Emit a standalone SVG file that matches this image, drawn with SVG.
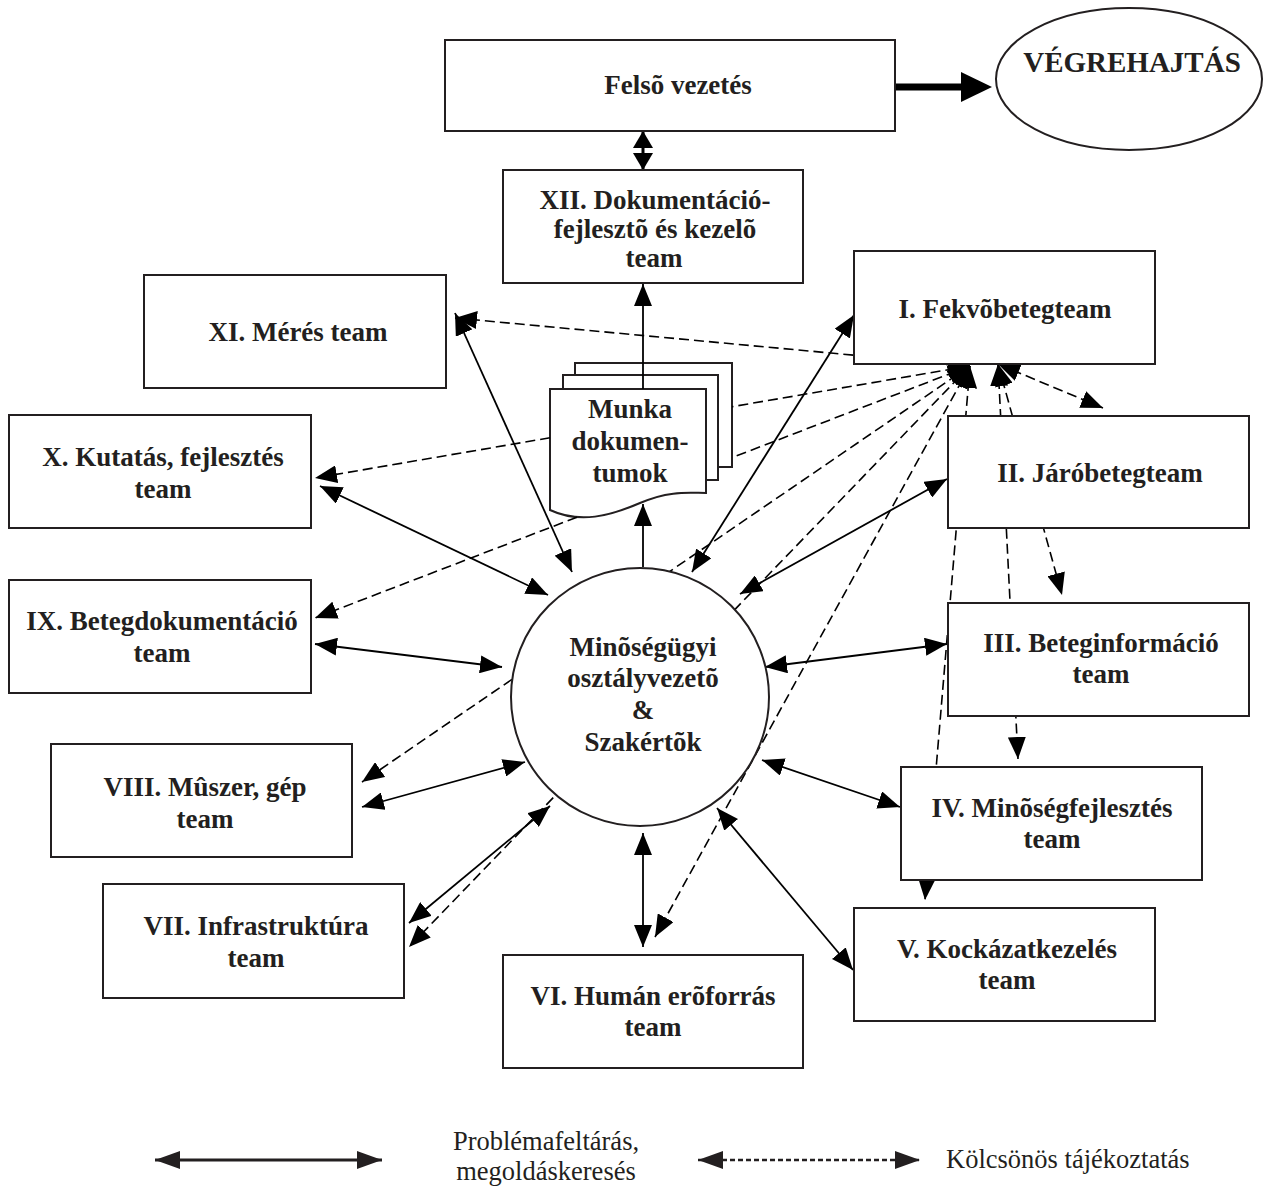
<svg xmlns="http://www.w3.org/2000/svg" width="1264" height="1189" viewBox="0 0 1264 1189">
  <defs>
    <style>
      .box { fill:#fff; stroke:#231f20; stroke-width:2; }
      .lbl { font-family:"Liberation Serif","Times New Roman",serif; font-weight:bold; font-size:27px; fill:#231f20; text-anchor:middle; }
      .leg { font-family:"Liberation Serif","Times New Roman",serif; font-size:26.5px; fill:#231f20; }
      .solid { stroke:#000; stroke-width:1.8; fill:none; }
      .dash { stroke:#000; stroke-width:1.6; stroke-dasharray:10 5; fill:none; }
      .both { marker-start:url(#ah); marker-end:url(#ah); }
      .head { marker-end:url(#ah); }
      .tail { marker-start:url(#ah); }
    </style>
    <marker id="ah" viewBox="0 0 22 18" refX="22" refY="9" markerWidth="22" markerHeight="18" markerUnits="userSpaceOnUse" orient="auto-start-reverse">
      <path d="M0,0 L22,9 L0,18 Z" fill="#000"/>
    </marker>
    <marker id="ahT" viewBox="0 0 17 20" refX="17" refY="10" markerWidth="17" markerHeight="20" markerUnits="userSpaceOnUse" orient="auto-start-reverse">
      <path d="M0,0 L17,10 L0,20 Z" fill="#000"/>
    </marker>
    <marker id="ahL" viewBox="0 0 25 18" refX="25" refY="9" markerWidth="25" markerHeight="18" markerUnits="userSpaceOnUse" orient="auto-start-reverse">
      <path d="M0,0 L25,9 L0,18 Z" fill="#231f20"/>
    </marker>
  </defs>

  <rect width="1264" height="1189" fill="#fff"/>

  <!-- working documents: three stacked sheets -->
  <g id="node-munka-dokumentumok">
    <rect class="box" x="575" y="363" width="157" height="104"/>
    <rect class="box" x="563" y="375" width="155" height="105"/>
    <path class="box" d="M550,389 L706,389 L706,493 C690,493 670,490 640,503 C610,516 580,524 550,510 Z"/>
    <text class="lbl" x="630" y="418">Munka</text>
    <text class="lbl" x="630" y="450">dokumen-</text>
    <text class="lbl" x="630" y="482">tumok</text>
  </g>

  <g id="connectors">
    <!-- mutual information (dashed) -->
    <path class="dash both" d="M455,318 L970,366"/>
    <path class="dash tail" d="M970,366 L732,406.7"/>
    <path class="dash head" d="M550,437.8 L315,478"/>
    <path class="dash tail" d="M970,366 L732,457.6"/>
    <path class="dash head" d="M577,517.2 L315,618"/>
    <path class="dash both" d="M970,366 L362,782"/>
    <path class="dash both" d="M970,366 L409,947"/>
    <path class="dash both" d="M970,366 L655,937"/>
    <path class="dash both" d="M970,366 L925,900"/>
    <path class="dash both" d="M998,364 L1018,759"/>
    <path class="dash both" d="M998,364 L1062,595"/>
    <path class="dash both" d="M998,364 L1103,408"/>

    <!-- problem finding / solution search (solid) -->
    <path class="solid both" d="M455,313 L572,572"/>
    <path class="solid both" d="M854,315 L692,572"/>
    <path class="solid both" d="M320,486 L548,595"/>
    <path class="solid both" d="M315,644 L502,667"/>
    <path class="solid both" d="M362,807 L525,762"/>
    <path class="solid both" d="M409,923 L550,806"/>
    <path class="solid both" d="M643,833 L643,947"/>
    <path class="solid both" d="M717,808 L853,970"/>
    <path class="solid both" d="M762,760 L900,807"/>
    <path class="solid both" d="M765,667 L947,644"/>
    <path class="solid both" d="M740,594 L947,479"/>
    <path class="solid head" d="M643,567 L643,504"/>
    <path class="solid head" d="M643,389 L643,284"/>
    <path d="M643,131 L643,170" stroke="#000" stroke-width="3" marker-start="url(#ahT)" marker-end="url(#ahT)"/>

    <!-- executive flow -->
    <path d="M895,87 L962,87" stroke="#000" stroke-width="7"/>
    <path d="M961,72 L992,87 L961,102 Z" fill="#000"/>
  </g>

  <g id="node-felso-vezetes">
    <rect class="box" x="445" y="40" width="450" height="91"/>
    <text class="lbl" x="678" y="94">Felsõ vezetés</text>
  </g>

  <g id="node-vegrehajtas">
    <ellipse class="box" cx="1129" cy="79" rx="133" ry="71" stroke-width="1.6"/>
    <text class="lbl" x="1132" y="72" style="font-size:29px">VÉGREHAJTÁS</text>
  </g>

  <g id="node-xii">
    <rect class="box" x="503" y="170" width="300" height="113"/>
    <text class="lbl" x="655" y="209">XII. Dokumentáció-</text>
    <text class="lbl" x="655" y="238">fejlesztõ és kezelõ</text>
    <text class="lbl" x="654" y="267">team</text>
  </g>

  <g id="node-xi">
    <rect class="box" x="144" y="275" width="302" height="113"/>
    <text class="lbl" x="298" y="341">XI. Mérés team</text>
  </g>

  <g id="node-i">
    <rect class="box" x="854" y="251" width="301" height="113"/>
    <text class="lbl" x="1005" y="318">I. Fekvõbetegteam</text>
  </g>

  <g id="node-x">
    <rect class="box" x="9" y="415" width="302" height="113"/>
    <text class="lbl" x="163" y="466">X. Kutatás, fejlesztés</text>
    <text class="lbl" x="163" y="498">team</text>
  </g>

  <g id="node-ii">
    <rect class="box" x="948" y="416" width="301" height="112"/>
    <text class="lbl" x="1100" y="482">II. Járóbetegteam</text>
  </g>

  <g id="node-ix">
    <rect class="box" x="9" y="580" width="302" height="113"/>
    <text class="lbl" x="162" y="630">IX. Betegdokumentáció</text>
    <text class="lbl" x="162" y="662">team</text>
  </g>

  <g id="node-iii">
    <rect class="box" x="948" y="603" width="301" height="113"/>
    <text class="lbl" x="1101" y="652">III. Beteginformáció</text>
    <text class="lbl" x="1101" y="683">team</text>
  </g>

  <g id="node-viii">
    <rect class="box" x="51" y="744" width="301" height="113"/>
    <text class="lbl" x="205" y="796">VIII. Mûszer, gép</text>
    <text class="lbl" x="205" y="828">team</text>
  </g>

  <g id="node-iv">
    <rect class="box" x="901" y="767" width="301" height="113"/>
    <text class="lbl" x="1052" y="817">IV. Minõségfejlesztés</text>
    <text class="lbl" x="1052" y="848">team</text>
  </g>

  <g id="node-vii">
    <rect class="box" x="103" y="884" width="301" height="114"/>
    <text class="lbl" x="256" y="935">VII. Infrastruktúra</text>
    <text class="lbl" x="256" y="967">team</text>
  </g>

  <g id="node-v">
    <rect class="box" x="854" y="908" width="301" height="113"/>
    <text class="lbl" x="1007" y="958">V. Kockázatkezelés</text>
    <text class="lbl" x="1007" y="989">team</text>
  </g>

  <g id="node-vi">
    <rect class="box" x="503" y="955" width="300" height="113"/>
    <text class="lbl" x="653" y="1005">VI. Humán erõforrás</text>
    <text class="lbl" x="653" y="1036">team</text>
  </g>

  <g id="node-minosegugy">
    <circle class="box" cx="640" cy="697" r="129" stroke-width="1.6"/>
    <text class="lbl" x="643" y="656">Minõségügyi</text>
    <text class="lbl" x="643" y="687">osztályvezetõ</text>
    <text class="lbl" x="643" y="719">&amp;</text>
    <text class="lbl" x="643" y="751">Szakértõk</text>
  </g>

  <!-- legend -->
  <g id="legend">
    <path d="M155,1160 L382,1160" stroke="#231f20" stroke-width="3" marker-start="url(#ahL)" marker-end="url(#ahL)"/>
    <text class="leg" x="546" y="1150" text-anchor="middle">Problémafeltárás,</text>
    <text class="leg" x="546" y="1180" text-anchor="middle">megoldáskeresés</text>
    <path d="M698,1160 L920,1160" stroke="#231f20" stroke-width="2.5" stroke-dasharray="5 3" marker-start="url(#ahL)" marker-end="url(#ahL)"/>
    <text class="leg" x="946" y="1168">Kölcsönös tájékoztatás</text>
  </g>
</svg>
